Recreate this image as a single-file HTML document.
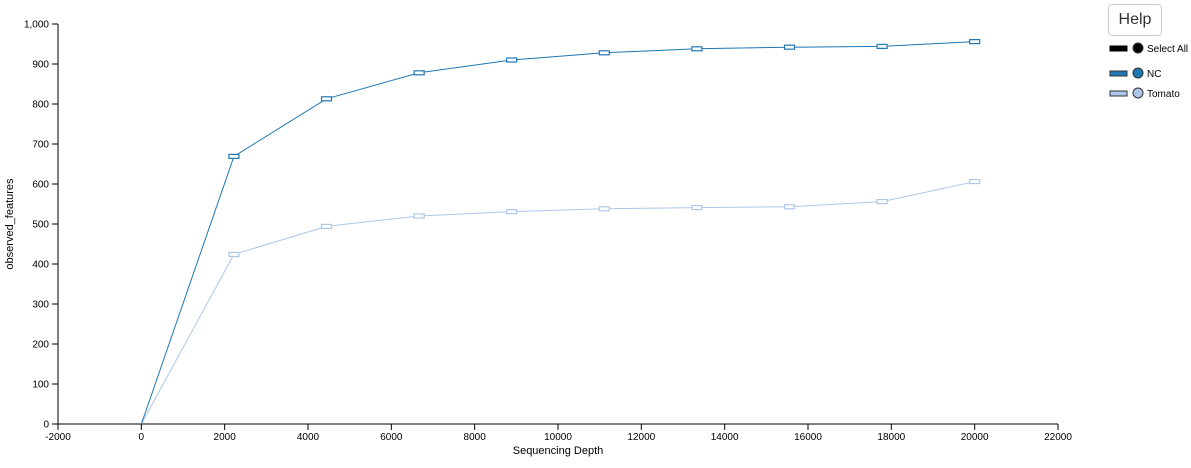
<!DOCTYPE html>
<html><head><meta charset="utf-8"><style>
body{margin:0;background:#fff;font-family:"Liberation Sans",sans-serif;}
#help{position:absolute;left:1108px;top:4px;width:54px;height:32px;border:1px solid #ccc;border-radius:4px;background:#fff;font-size:16px;color:#333;font-family:"Liberation Sans",sans-serif;}
</style></head><body>
<button id="help">Help</button>
<svg id="chart" width="1191" height="468" style="position:absolute;left:0;top:0"></svg>
<script>
const depths=[1,2222,4444,6667,8889,11111,13333,15556,17778,20000];
const ncValues=[0,669,813,878,910,928,938,942,944,956];
const tomatoValues=[0,424,494,520,531,538,541,543,556,606];
const xTicks=[-2000,0,2000,4000,6000,8000,10000,12000,14000,16000,18000,20000,22000];
const yTicks=[0,100,200,300,400,500,600,700,800,900,1000];
const NS="http://www.w3.org/2000/svg";
const svg=document.getElementById('chart');
const X=v=>58+(v+2000)/24000*1000;
const Y=v=>424-v*0.4;
function el(t,a,p){const e=document.createElementNS(NS,t);for(const k in a)e.setAttribute(k,a[k]);(p||svg).appendChild(e);return e;}
const ax=el('g',{});


el('line',{x1:58,x2:1058,y1:424,y2:424,stroke:'#000'},ax);
el('line',{x1:58,x2:58,y1:24,y2:424,stroke:'#000'},ax);
xTicks.forEach(t=>{el('line',{x1:X(t),x2:X(t),y1:424,y2:430,stroke:'#000'},ax);
const tx=el('text',{x:X(t),y:440,'text-anchor':'middle','font-size':10},ax);tx.textContent=t;

});
yTicks.forEach(t=>{el('line',{x1:52,x2:58,y1:Y(t),y2:Y(t),stroke:'#000'},ax);
const tx=el('text',{x:49,y:Y(t)+3.5,'text-anchor':'end','font-size':10},ax);tx.textContent=t.toLocaleString('en-US');

});
const xt=el('text',{x:558,y:454,'text-anchor':'middle','font-size':11});xt.textContent='Sequencing Depth';


const yt=el('text',{x:0,y:0,'text-anchor':'middle','font-size':11,transform:'translate(13,224) rotate(-90)'});yt.textContent='observed_features';


function series(vals,color,name){
const g=el('g',{});


const ln=el('polyline',{points:depths.map((d,i)=>X(d)+','+Y(vals[i])).join(' '),fill:'none',stroke:color,'stroke-width':1},g);


depths.forEach((d,i)=>{if(i===0)return;
const b=el('rect',{x:X(d)-5,y:Y(vals[i])-2,width:10,height:4,fill:'#fff',stroke:color,'stroke-width':1.2},g);

});
}
series(tomatoValues,'#aec7e8','tomato');
series(ncValues,'#1f77b4','nc');
const leg=[['Select All','#000','#000',48],['NC','#1f77b4','#1f77b4',73],['Tomato','#aec7e8','#aec7e8',93]];
leg.forEach(([n,c,s,y])=>{const g=el('g',{});


el('rect',{x:1110,y:y-2,width:17,height:5,fill:c,stroke:n==='Select All'?'#000':'#333','stroke-width':1},g);
el('circle',{cx:1138,cy:y,r:5,fill:c,stroke:'#333'},g);
const t=el('text',{x:1147,y:y+4,'font-size':10},g);t.textContent=n;});
</script>
</body></html>
